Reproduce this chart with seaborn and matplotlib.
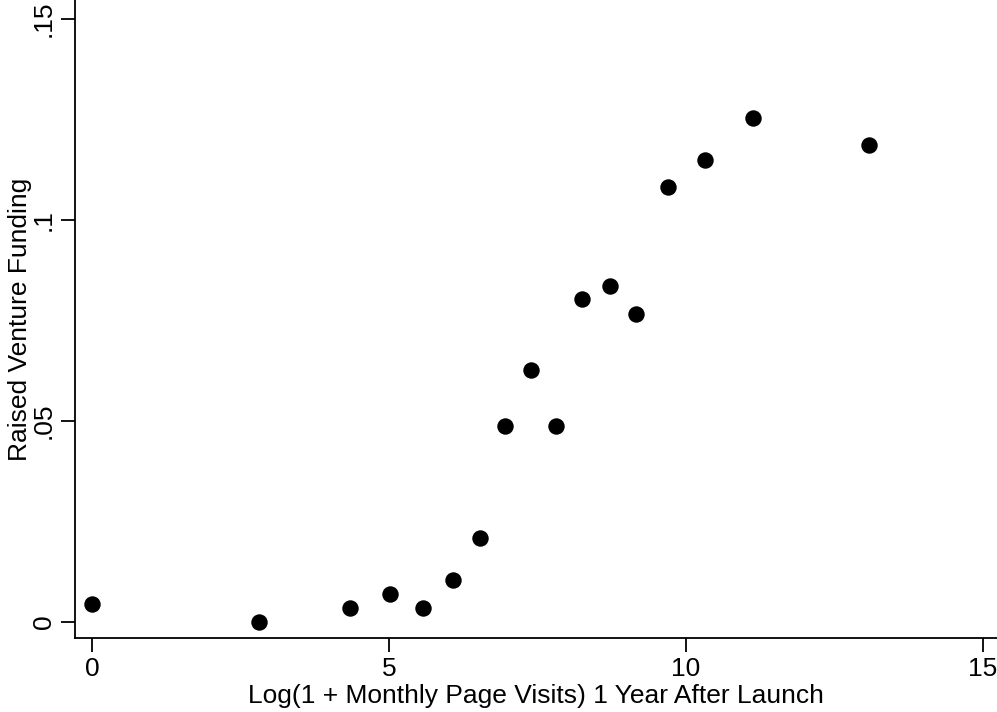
import matplotlib
matplotlib.use("Agg")
import matplotlib.pyplot as plt
import seaborn as sns
import pandas as pd

visits = [0.0, 2.82, 4.34, 5.02, 5.57, 6.08, 6.54, 6.96, 7.40, 7.82, 8.26, 8.73, 9.16, 9.70, 10.32, 11.13, 13.09]
funding = [0.0045, 0.0, 0.0035, 0.0070, 0.0035, 0.0104, 0.0209, 0.0488, 0.0627, 0.0488, 0.0803, 0.0836, 0.0766, 0.1082, 0.1149, 0.1254, 0.1187]
xticks = [0, 5, 10, 15]
yticks = [0, 0.05, 0.10, 0.15]
ytick_labels = ["0", ".05", ".1", ".15"]

sns.set_theme(style="white")
plt.rcParams['font.family'] = ['Liberation Sans', 'DejaVu Sans']

df = pd.DataFrame({"x": visits, "y": funding})
fig = plt.figure(figsize=(9.97, 7.12), dpi=100)
ax = fig.add_axes([75/997, (712-638)/712, 1 - 75/997, 638/712])
sns.scatterplot(data=df, x="x", y="y", ax=ax, color="black", s=140, edgecolor="black", linewidth=0)

ax.set_xlim(-0.286, 15.24)
ax.set_ylim(-0.00398, 0.15473)
ax.set_xticks(xticks)
ax.set_xticklabels([str(t) for t in xticks], fontsize=19)
ax.set_yticks(yticks)
ax.set_yticklabels(ytick_labels, fontsize=19, rotation=90, va="center")
ax.tick_params(axis="both", direction="out", length=10, width=1.3, color="black", labelcolor="black", pad=4, left=True, bottom=True)
for side in ["top", "right"]:
    ax.spines[side].set_visible(False)
for side in ["left", "bottom"]:
    ax.spines[side].set_color("black")
    ax.spines[side].set_linewidth(1.3)
ax.set_xlabel("Log(1 + Monthly Page Visits) 1 Year After Launch", fontsize=19, color="black", labelpad=2)
ax.set_ylabel("Raised Venture Funding", fontsize=19, color="black", labelpad=0)
fig.savefig("out.png", dpi=100)
